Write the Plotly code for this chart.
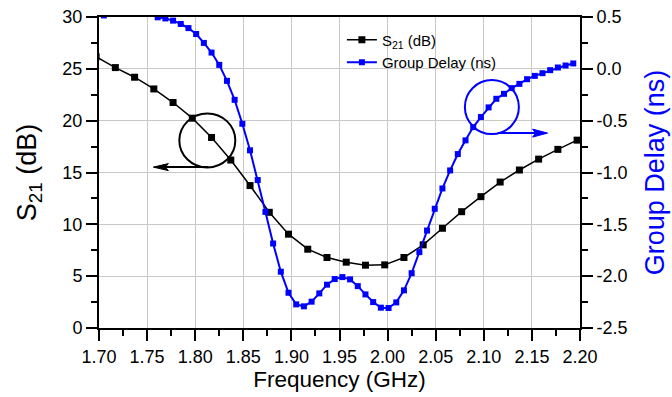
import plotly.graph_objects as go

# ---------------- data ----------------
freq_s21 = [1.697, 1.717, 1.737, 1.757, 1.777, 1.797, 1.817, 1.837, 1.857, 1.877,
            1.897, 1.917, 1.937, 1.957, 1.977, 1.997, 2.017, 2.037, 2.057, 2.077,
            2.097, 2.117, 2.137, 2.157, 2.177, 2.197]
s21_db = [26.16, 25.12, 24.19, 23.06, 21.75, 20.24, 18.38, 16.20, 13.74, 11.16,
          9.05, 7.60, 6.80, 6.35, 6.06, 6.09, 6.80, 8.02, 9.62, 11.22,
          12.67, 14.08, 15.24, 16.29, 17.23, 18.12]

freq_gd = [1.697, 1.705, 1.713, 1.721, 1.729, 1.737, 1.745, 1.753, 1.761, 1.769,
           1.777, 1.785, 1.793, 1.801, 1.809, 1.817, 1.825, 1.833, 1.841, 1.849,
           1.857, 1.865, 1.873, 1.881, 1.889, 1.897, 1.905, 1.913, 1.921, 1.929,
           1.937, 1.945, 1.953, 1.961, 1.969, 1.977, 1.985, 1.993, 2.001, 2.009,
           2.017, 2.025, 2.033, 2.041, 2.049, 2.057, 2.065, 2.073, 2.081, 2.089,
           2.097, 2.105, 2.113, 2.121, 2.129, 2.137, 2.145, 2.153, 2.161, 2.169,
           2.177, 2.185, 2.193]
group_delay_ns = [0.53, 0.515, 0.54, 0.55, 0.55, 0.55, 0.54, 0.535, 0.497, 0.486,
                  0.465, 0.433, 0.393, 0.336, 0.250, 0.157, 0.038, -0.116, -0.299, -0.530,
                  -0.786, -1.073, -1.380, -1.685, -1.957, -2.160, -2.272, -2.291, -2.246, -2.166,
                  -2.082, -2.028, -2.009, -2.031, -2.096, -2.176, -2.250, -2.304, -2.307, -2.253,
                  -2.137, -1.971, -1.768, -1.560, -1.350, -1.154, -0.980, -0.822, -0.690, -0.562,
                  -0.465, -0.372, -0.289, -0.241, -0.186, -0.145, -0.100, -0.068, -0.042, -0.013,
                  0.013, 0.032, 0.052]

x_ticks = ["1.70", "1.75", "1.80", "1.85", "1.90", "1.95", "2.00", "2.05", "2.10", "2.15", "2.20"]
y_ticks = ["0", "5", "10", "15", "20", "25", "30"]
y2_ticks = ["-2.5", "-2.0", "-1.5", "-1.0", "-0.5", "0.0", "0.5"]

# ---------------- style ----------------
FONT = "Liberation Sans, Arial, sans-serif"
BLUE = "#0000ff"
GRID = "#c8c8c8"

fig = go.Figure()
fig.add_trace(go.Scatter(
    x=freq_s21, y=s21_db, name="S<sub>21</sub> (dB)", mode="lines+markers",
    line=dict(color="black", width=1.5),
    marker=dict(symbol="square", size=7, color="black"),
    yaxis="y"))
fig.add_trace(go.Scatter(
    x=freq_gd, y=group_delay_ns, name="Group Delay (ns)", mode="lines+markers",
    line=dict(color=BLUE, width=2),
    marker=dict(symbol="square", size=6, color=BLUE),
    yaxis="y2"))

axis_common = dict(showline=True, linecolor="black", linewidth=2,
                   ticks="outside", ticklen=11, tickwidth=2, tickcolor="black",
                   zeroline=False, automargin=False)

fig.update_layout(
    width=672, height=397,
    margin=dict(l=99, r=92, t=17, b=69),
    paper_bgcolor="white", plot_bgcolor="white",
    font=dict(family=FONT, color="black", size=18),
    showlegend=True,
    legend=dict(x=0.505, y=0.979, xanchor="left", yanchor="top",
                bgcolor="rgba(0,0,0,0)", borderwidth=0,
                font=dict(family=FONT, size=15, color="black"),
                tracegroupgap=0, itemwidth=30),
    xaxis=dict(range=[1.70, 2.20], tickvals=[float(t) for t in x_ticks], ticktext=x_ticks,
               showgrid=True, gridcolor=GRID, gridwidth=1, mirror=True,
               minor=dict(dtick=0.025, ticklen=6, tickwidth=2, tickcolor="black", ticks="outside", showgrid=False),
               title=dict(text="Frequency (GHz)", font=dict(family=FONT, size=22.5), standoff=4),
               tickfont=dict(family=FONT, size=18),
               **axis_common),
    yaxis=dict(range=[0, 30], tickvals=[float(t) for t in y_ticks], ticktext=y_ticks,
               showgrid=True, gridcolor=GRID, gridwidth=1,
               minor=dict(dtick=2.5, ticklen=6, tickwidth=2, tickcolor="black", ticks="outside", showgrid=False),
               title=dict(text="S<sub>21</sub> (dB)", font=dict(family=FONT, size=27), standoff=18),
               tickfont=dict(family=FONT, size=18),
               **axis_common),
    yaxis2=dict(range=[-2.5, 0.5], tickvals=[float(t) for t in y2_ticks], ticktext=y2_ticks,
                overlaying="y", side="right", showgrid=False,
                minor=dict(dtick=0.25, ticklen=6, tickwidth=2, tickcolor="black", ticks="outside", showgrid=False),
                title=dict(text="Group Delay (ns)", font=dict(family=FONT, size=27, color=BLUE), standoff=18),
                tickfont=dict(family=FONT, size=18),
                **axis_common),
)

# annotation circles
fig.add_shape(type="circle", xref="x", yref="y", xsizemode="pixel", ysizemode="pixel",
              xanchor=1.8126, yanchor=18.09, x0=-28, x1=28, y0=-27, y1=27,
              line=dict(color="black", width=2))
fig.add_shape(type="circle", xref="x", yref="y2", xsizemode="pixel", ysizemode="pixel",
              xanchor=2.1084, yanchor=-0.369, x0=-27, x1=27, y0=-27, y1=27,
              line=dict(color=BLUE, width=2))
# arrows (shaft + head) anchored at arrow tips
fig.add_shape(type="path", xref="x", yref="y", xsizemode="pixel", ysizemode="pixel",
              xanchor=1.7565, yanchor=15.52, path="M2,0 L55,0",
              line=dict(color="black", width=2))
fig.add_shape(type="path", xref="x", yref="y", xsizemode="pixel", ysizemode="pixel",
              xanchor=1.7565, yanchor=15.52, path="M0,0 L15,-3.5 L12,0 L15,3.5 Z",
              line=dict(color="black", width=1), fillcolor="black")
fig.add_shape(type="path", xref="x", yref="y2", xsizemode="pixel", ysizemode="pixel",
              xanchor=2.1663, yanchor=-0.62, path="M-2,0 L-50,0",
              line=dict(color=BLUE, width=2))
fig.add_shape(type="path", xref="x", yref="y2", xsizemode="pixel", ysizemode="pixel",
              xanchor=2.1663, yanchor=-0.62, path="M0,0 L-15,-4 L-12,0 L-15,4 Z",
              line=dict(color=BLUE, width=1), fillcolor=BLUE)

fig.write_html("out.html")
